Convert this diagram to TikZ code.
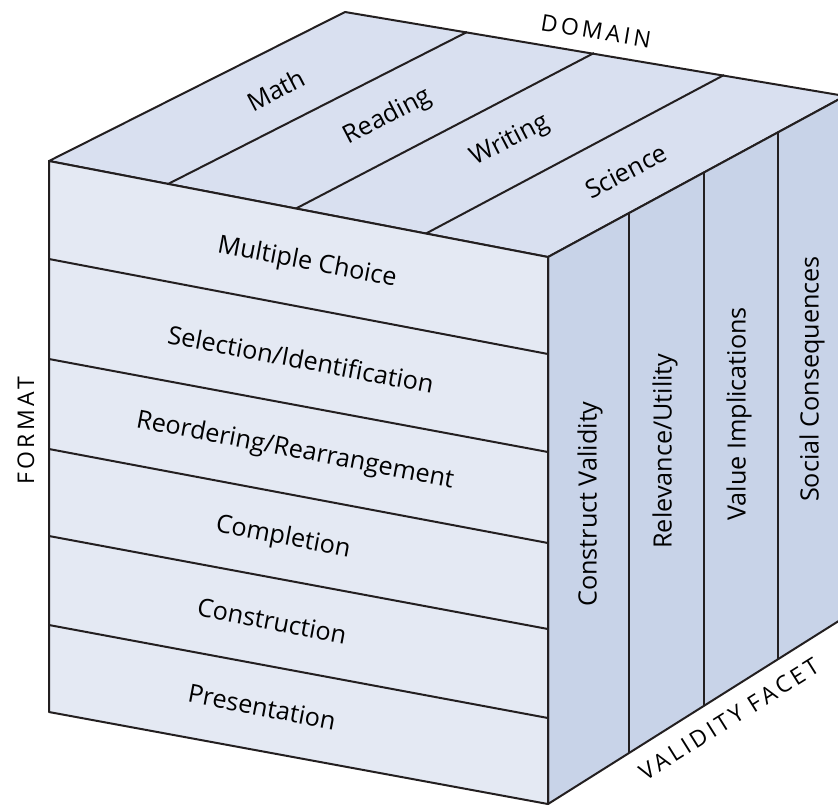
\documentclass[tikz,border=0pt]{standalone}
\usepackage{fontspec}
\setmainfont{Open Sans}
\newfontfamily\axisfont[LetterSpace=15]{Open Sans}
\usepackage{tikz}
\definecolor{frontcol}{RGB}{228,233,243}
\definecolor{topcol}{RGB}{217,224,240}
\definecolor{sidecol}{RGB}{200,211,232}
\definecolor{edgecol}{RGB}{35,31,32}

\begin{document}
\begin{tikzpicture}[x=0.5pt,y=-0.5pt,line width=1pt,line join=round,
  lbl/.style={font=\fontsize{12.6}{15}\selectfont,inner sep=0pt},
  rowlbl/.style={lbl,rotate=-10.8},
  domlbl/.style={lbl,rotate=27.5},
  facetlbl/.style={lbl,rotate=90},
  axislbl/.style={font=\axisfont\fontsize{11.5}{14}\selectfont,inner sep=0pt}]
\useasboundingbox (0,0) rectangle (838,805);
\clip (0,0) rectangle (838,805);

% faces of the cube
\filldraw[fill=topcol,draw=edgecol](49,161)--(345,12)--(845,96)--(548,257)--cycle;
\filldraw[fill=sidecol,draw=edgecol](548,257)--(845,96)--(845,617)--(548,804)--cycle;
\filldraw[fill=frontcol,draw=edgecol](49,161)--(548,257)--(548,804)--(49,712)--cycle;

% rows, strips and facets
\foreach \l/\r in {259/354,359/452,449/543,536/629,625/718}
  \draw[edgecol](49,\l)--(548,\r);
\foreach \f/\g/\b/\c in {168/184/467/32,296/208.5/594/53,426/233.5/724/75}
  \draw[edgecol](\f,\g)--(\b,\c);
\foreach \x/\t/\u in {629/213/753,704/173/706,778/133/660}
  \draw[edgecol](\x,\t)--(\x,\u);

% format
\node[rowlbl] (mc) at (307,263) {Multiple Choice};
\node[rowlbl] (sel) at (301,359) {Selection/Identification};
\node[rowlbl] (reo) at (295,451) {Reordering/Rearrangement};
\node[rowlbl] (comp) at (283,538) {Completion};
\node[rowlbl] (cons) at (272,621) {Construction};
\node[rowlbl] (pres) at (262,707) {Presentation};

% domain
\node[domlbl] (math) at (276,90) {Math};
\node[domlbl] (read) at (388,117) {Reading};
\node[domlbl] (writ) at (510,141) {Writing};
\node[domlbl] (sci) at (626,171) {Science};

% validity facet
\node[facetlbl] (cv) at (590,504) {Construct Validity};
\node[facetlbl] (ru) at (665,451) {Relevance/Utility};
\node[facetlbl] (vi) at (739,414) {Value Implications};
\node[facetlbl] (sc) at (812,379) {Social Consequences};

% axis names
\node[axislbl,rotate=-9.4] (domain) at (596,31) {DOMAIN};
\node[axislbl,rotate=90] (format) at (26,431) {FORMAT};
\node[axislbl,rotate=32.1] (facet) at (729,719) {VALIDITY FACET};
\end{tikzpicture}
\end{document}
